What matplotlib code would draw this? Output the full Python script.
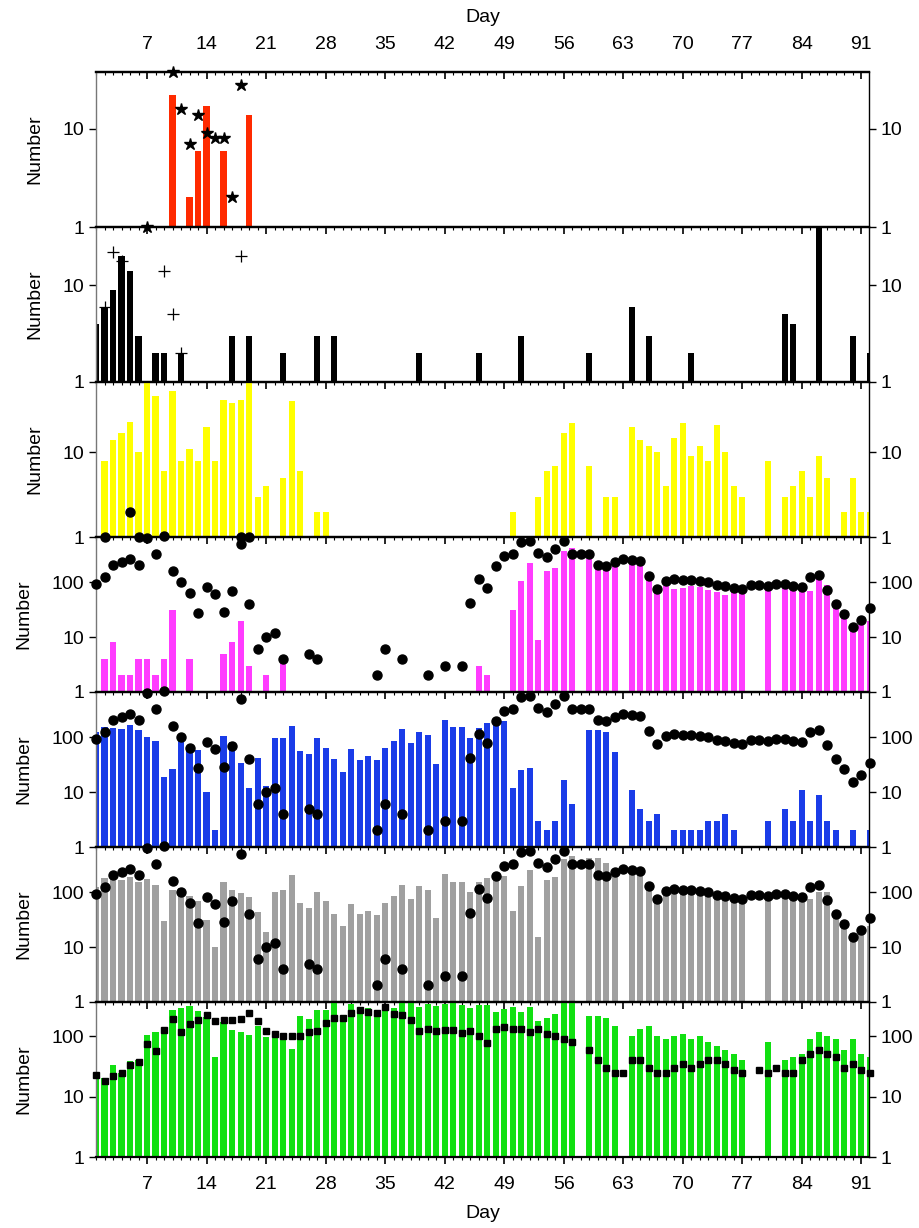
import numpy as np
import matplotlib.pyplot as plt
from matplotlib.ticker import FixedLocator, MultipleLocator, NullLocator

plt.rcParams['font.family'] = ['Liberation Sans', 'DejaVu Sans']

# ---- panel 1 (red bars, stars)
red_days = [10, 12, 13, 14, 16, 19]
red_vals = [22, 2, 6, 17, 6, 14]
star_days = [7, 10, 11, 12, 13, 14, 15, 16, 17, 18]
star_vals = [1, 38, 16, 7, 14, 9, 8, 8, 2, 28]

# ---- panel 2 (black bars, plus)
blk_days = [1, 2, 3, 4, 5, 6, 8, 9, 11, 17, 19, 23, 27, 29, 39, 46,
            51, 59, 64, 66, 71, 82, 83, 86, 90, 92]
blk_vals = [4, 6, 9, 20, 14, 3, 2, 2, 2, 3, 3, 2, 3, 3, 2, 2,
            3, 2, 6, 3, 2, 5, 4, 60, 3, 2]
plus_days = [2, 3, 4, 9, 10, 11, 18]
plus_vals = [6, 22, 18, 14, 5, 2, 20]

# ---- panel 3 (yellow bars, dots)
yel_days = [2, 3, 4, 5, 6, 7, 8, 9, 10, 11, 12, 13, 14, 15, 16, 17, 18, 19,
            20, 21, 23, 24, 25, 27, 28, 50, 53, 54, 55, 56, 57, 59, 61, 62,
            64, 65, 66, 67, 68, 69, 70, 71, 72, 73, 74, 75, 76, 77, 80, 82,
            83, 84, 85, 86, 87, 89, 90, 91, 92]
yel_vals = [8, 14, 17, 23, 10, 80, 47, 6, 53, 8, 11, 8, 20, 8, 42, 38, 42, 80,
            3, 4, 5, 41, 6, 2, 2, 2, 3, 6, 7, 17, 22, 7, 3, 3,
            20, 14, 12, 10, 4, 15, 22, 9, 12, 8, 21, 10, 4, 3, 8, 3,
            4, 6, 3, 9, 5, 2, 5, 2, 2]
ydot_days = [2, 5, 6, 18, 19]
ydot_vals = [1, 2, 1, 1, 1]

# ---- black dots shared by panels 4-6
dot_days = list(range(1, 24)) + [26, 27, 34, 35, 37, 40, 42, 44, 45, 46, 47] + list(range(48, 93))
dot_vals = [93, 124, 206, 233, 261, 208, 645, 327, 692, 162, 100, 65, 28, 83,
            61, 29, 69, 500, 41, 6, 10, 12, 4,
            5, 4, 2, 6, 4, 2, 3, 3, 42, 114, 80,
            202, 299, 330, 539, 578, 339, 295, 407, 578, 330, 330, 330, 210, 202,
            239, 267, 257, 249, 132, 75, 107, 115, 112, 112, 104, 100, 89, 85,
            80, 75, 89, 89, 85, 92, 93, 87, 81, 125, 138, 72, 40, 26, 15, 20.5, 34]

# ---- panel 4 (magenta)
mag_days = [2, 3, 4, 5, 6, 7, 8, 9, 10, 12, 16, 17, 18, 19, 21, 23, 46, 47,
            50, 51, 52, 53, 54, 55, 56, 57, 59, 60, 61, 62, 64, 65, 66, 67,
            68, 69, 70, 71, 72, 73, 74, 75, 76, 77, 80, 82, 83, 84, 85, 86,
            87, 88, 89, 90, 91, 92]
mag_vals = [4, 8, 2, 2, 4, 4, 2, 4, 31, 4, 5, 8, 20, 3, 2, 4, 3, 2,
            31, 104, 226, 9, 159, 183, 369, 419, 267, 230, 190, 200, 216, 207, 115, 66,
            84, 75, 78, 84, 81, 73, 66, 59, 70, 70, 75, 87, 78, 73, 70, 118,
            89, 35, 23, 13, 17, 20]

# ---- panel 5 (blue)
blu_days = list(range(1, 58)) + [59, 60, 61, 62, 64, 65, 66, 67, 69, 70, 71, 72,
                                 73, 74, 75, 76, 80, 82, 83, 84, 85, 86, 87, 88, 90, 92]
blu_vals = [123, 152, 148, 144, 171, 136, 101, 84, 19, 26, 97, 67, 59, 10, 2,
            106, 81, 34, 12, 42, 13, 97, 97, 163, 56, 49, 97, 65, 41, 23, 61,
            39, 46, 39, 64, 84, 142, 78, 127, 112, 32, 211, 152, 152, 97, 146,
            183, 196, 196, 12, 25, 28, 3, 2, 3, 17, 6,
            136, 136, 127, 55, 11, 5, 3, 4, 2, 2, 2, 2,
            3, 3, 4, 2, 3, 5, 3, 11, 3, 9, 3, 2, 2, 2]

# ---- panel 6 (grey)
gry_days = list(range(1, 58)) + list(range(59, 63)) + list(range(64, 78)) + [80] + list(range(82, 93))
gry_vals = [125, 183, 202, 168, 193, 157, 175, 136, 30, 112, 122, 87, 69, 31, 10,
            157, 112, 96, 83, 44, 19, 103, 108, 211, 64, 52, 100, 69, 41, 24, 62,
            41, 46, 39, 64, 87, 138, 75, 129, 112, 34, 216, 157, 157, 100, 157,
            185, 202, 202, 46, 132, 260, 15, 168, 193, 407, 468,
            430, 420, 339, 255,
            249, 232, 140, 85, 88, 92, 102, 97, 95, 84, 90, 73, 76, 73,
            86,
            100, 89, 90, 76, 100, 100, 45, 25, 18, 22, 24]

# ---- panel 7 (green, squares)
grn_days = list(range(1, 58)) + list(range(59, 63)) + list(range(64, 78)) + [80] + list(range(82, 93))
grn_vals = [21, 20, 33, 25, 39, 41, 107, 118, 134, 271, 289, 320, 264, 210, 45,
            173, 126, 118, 104, 149, 97, 94, 94, 62, 218, 190, 271, 271, 380, 190,
            337, 289, 289, 254, 328, 297, 380, 380, 308, 337, 316, 337, 380, 328,
            289, 328, 328, 250, 280, 300, 250, 300, 180, 200, 230, 400, 460,
            220, 220, 200, 150,
            100, 130, 150, 100, 90, 100, 110, 90, 100, 80, 70, 60, 50, 40,
            80,
            40, 45, 50, 90, 120, 100, 90, 60, 90, 50, 45]
sq_days = list(range(1, 58)) + list(range(59, 78)) + list(range(79, 93))
sq_vals = [23, 18, 22, 25, 34, 37, 75, 56, 126, 190, 118, 158, 185, 224, 178,
           185, 185, 190, 239, 178, 123, 108, 100, 100, 100, 118, 123, 165, 202,
           202, 239, 271, 254, 239, 300, 233, 224, 185, 123, 134, 123, 129, 128,
           115, 124, 100, 78, 130, 140, 130, 130, 120, 130, 110, 100, 90, 80,
           60, 40, 30, 25, 25, 40, 40, 30, 25, 25, 30, 35, 30, 35, 40, 40, 35,
           28, 25, 28, 25, 30, 25, 25, 40, 50, 60, 50, 45, 30, 35, 28, 25]

ticks_x = list(range(7, 92, 7))

fig = plt.figure(figsize=(9.2, 12.28), dpi=100)
W, H = 920.0, 1228.0
left, right = 96 / W, 869 / W
top_px, ph = 72.0, 155.0
fs = 14

axes = []
for i in range(7):
    b = 1 - (top_px + ph * (i + 1)) / H
    ax = fig.add_axes([left, b, right - left, ph / H])
    ax.set_facecolor('none')
    axes.append(ax)

ylims = [(1, 38), (1, 40), (1, 68), (1, 670), (1, 670), (1, 670), (1, 370)]
bw = 0.72

ax = axes[0]
ax.bar(red_days, red_vals, width=bw, color='#ff2a00', zorder=2)
ax.plot(star_days, star_vals, '*', color='black', ms=9, clip_on=False, zorder=5)

ax = axes[1]
ax.bar(blk_days, blk_vals, width=bw, color='black', zorder=2)
ax.plot(plus_days, plus_vals, '+', color='black', ms=9, mew=0.9, clip_on=False, zorder=5)

ax = axes[2]
ax.bar(yel_days, yel_vals, width=bw, color='#ffff00', zorder=2)
ax.plot(ydot_days, ydot_vals, 'o', color='black', ms=6.5, clip_on=False, zorder=5)

ax = axes[3]
ax.bar(mag_days, mag_vals, width=bw, color='#ff3cff', zorder=2)
ax.plot(dot_days, dot_vals, 'o', color='black', ms=6.5, clip_on=False, zorder=5)

ax = axes[4]
ax.bar(blu_days, blu_vals, width=bw, color='#1a3ce8', zorder=2)
ax.plot(dot_days, dot_vals, 'o', color='black', ms=6.5, clip_on=False, zorder=5)

ax = axes[5]
ax.bar(gry_days, gry_vals, width=bw, color='#a0a0a0', zorder=2)
ax.plot(dot_days, dot_vals, 'o', color='black', ms=6.5, clip_on=False, zorder=5)

ax = axes[6]
ax.bar(grn_days, grn_vals, width=bw, color='#11e011', zorder=2)
ax.plot(sq_days, sq_vals, 's', color='black', ms=4.5, clip_on=False, zorder=5)

for i, ax in enumerate(axes):
    ax.set_yscale('log')
    ax.set_ylim(ylims[i])
    ax.set_xlim(1, 91.9)
    yt = [1, 10] if i < 3 else [1, 10, 100]
    ax.yaxis.set_major_locator(FixedLocator(yt))
    ax.yaxis.set_minor_locator(NullLocator())
    ax.set_yticklabels([str(v) for v in yt])
    ax.tick_params(axis='y', which='both', direction='out', left=True, right=True,
                   labelleft=True, labelright=True, length=5, width=1, labelsize=fs)
    ax.xaxis.set_major_locator(FixedLocator(ticks_x))
    ax.xaxis.set_minor_locator(MultipleLocator(1))
    ax.tick_params(axis='x', which='major', direction='out', length=5, width=1.2,
                   labelsize=fs, labelbottom=(i == 6), pad=9)
    ax.tick_params(axis='x', which='minor', direction='out', length=2.5, width=0.8)
    ax.set_xticklabels([str(v) for v in ticks_x])
    for s in ['top', 'bottom']:
        ax.spines[s].set_linewidth(1.6)
    ax.spines['right'].set_linewidth(1.0)
    ax.spines['left'].set_linewidth(1.0)
    ax.spines['left'].set_color('#777777')
    ax.set_ylabel('Number', fontsize=fs, labelpad=14)

sec = axes[0].secondary_xaxis('top')
sec.xaxis.set_major_locator(FixedLocator(ticks_x))
sec.xaxis.set_minor_locator(MultipleLocator(1))
sec.set_xticklabels([str(v) for v in ticks_x])
sec.tick_params(axis='x', which='major', direction='in', length=5, width=1.2,
                labelsize=fs, pad=14)
sec.tick_params(axis='x', which='minor', direction='in', length=2.5, width=0.8)
sec.spines['top'].set_linewidth(1.6)
sec.set_xlabel('Day', fontsize=fs, labelpad=10)

axes[6].set_xlabel('Day', fontsize=fs, labelpad=8)

fig.savefig('out.png', dpi=100)
